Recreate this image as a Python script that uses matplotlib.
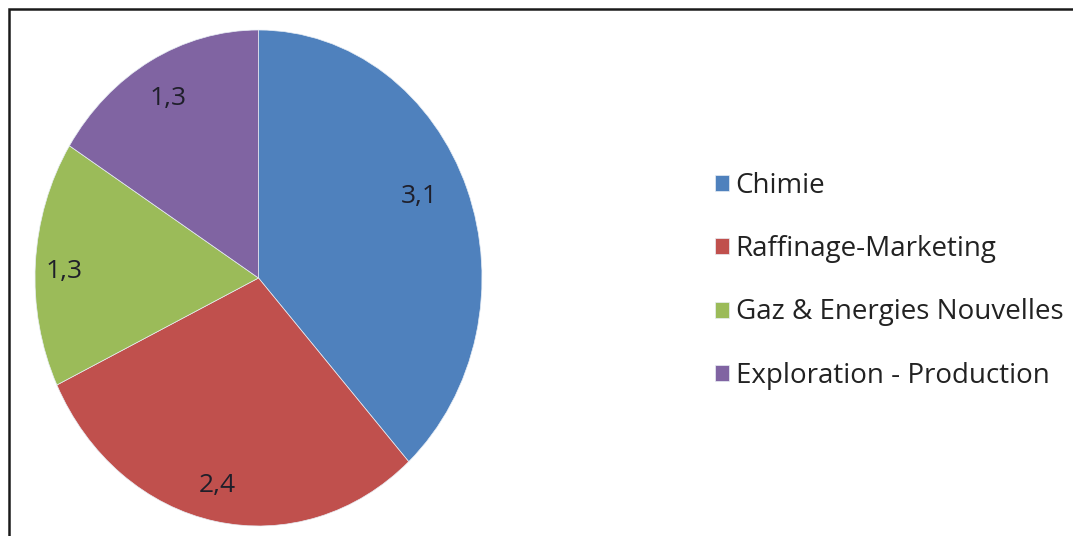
import matplotlib.pyplot as plt
from matplotlib.patches import Rectangle

# Répartition par secteur
secteurs = ['Chimie', 'Raffinage-Marketing', 'Gaz & Energies Nouvelles',
            'Exploration - Production']
valeurs = [3.1, 2.4, 1.3, 1.3]
couleurs = ['#4F81BD', '#C0504D', '#9BBB59', '#8064A2']
# position of each value label inside its slice (axes data coords)
pos_labels = [(0.718, 0.33), (-0.186, -0.835), (-0.87, 0.025), (-0.405, 0.722)]

W, H = 1073, 536
fig = plt.figure(figsize=(W / 100, H / 100), dpi=100)
plt.rcParams['font.family'] = ['Open Sans', 'DejaVu Sans']

# pie is slightly taller than wide
ax = fig.add_axes([35 / W, 10 / H, 447 / W, 496 / H])
wedges, _ = ax.pie(valeurs, colors=couleurs, startangle=90, counterclock=False,
                   radius=1, wedgeprops=dict(linewidth=0.5, edgecolor='#e8eef5'))
ax.set_aspect('auto')
ax.set_xlim(-1, 1)
ax.set_ylim(-1, 1)
ax.axis('off')

for v, (x, y) in zip(valeurs, pos_labels):
    ax.text(x, y, f'{v:.1f}'.replace('.', ','), ha='center', va='center',
            fontsize=19, color='#1f1f2a')

leg = fig.legend(wedges, secteurs, loc='upper left',
                 bbox_to_anchor=(701 / W, 1 - 158 / H), frameon=False,
                 fontsize=20, handlelength=0.5, handleheight=0.5,
                 handletextpad=0.25, labelspacing=1.27, borderpad=0)
for t in leg.get_texts():
    t.set_color('#222222')

# outer frame (right and bottom edges fall outside the canvas)
fig.patches.append(Rectangle((9 / W, -0.1), 1.2, (H - 9) / H + 0.1,
                             transform=fig.transFigure, fill=False,
                             linewidth=1.8, edgecolor='#1a1a1a'))

fig.savefig('out.png', dpi=100)
